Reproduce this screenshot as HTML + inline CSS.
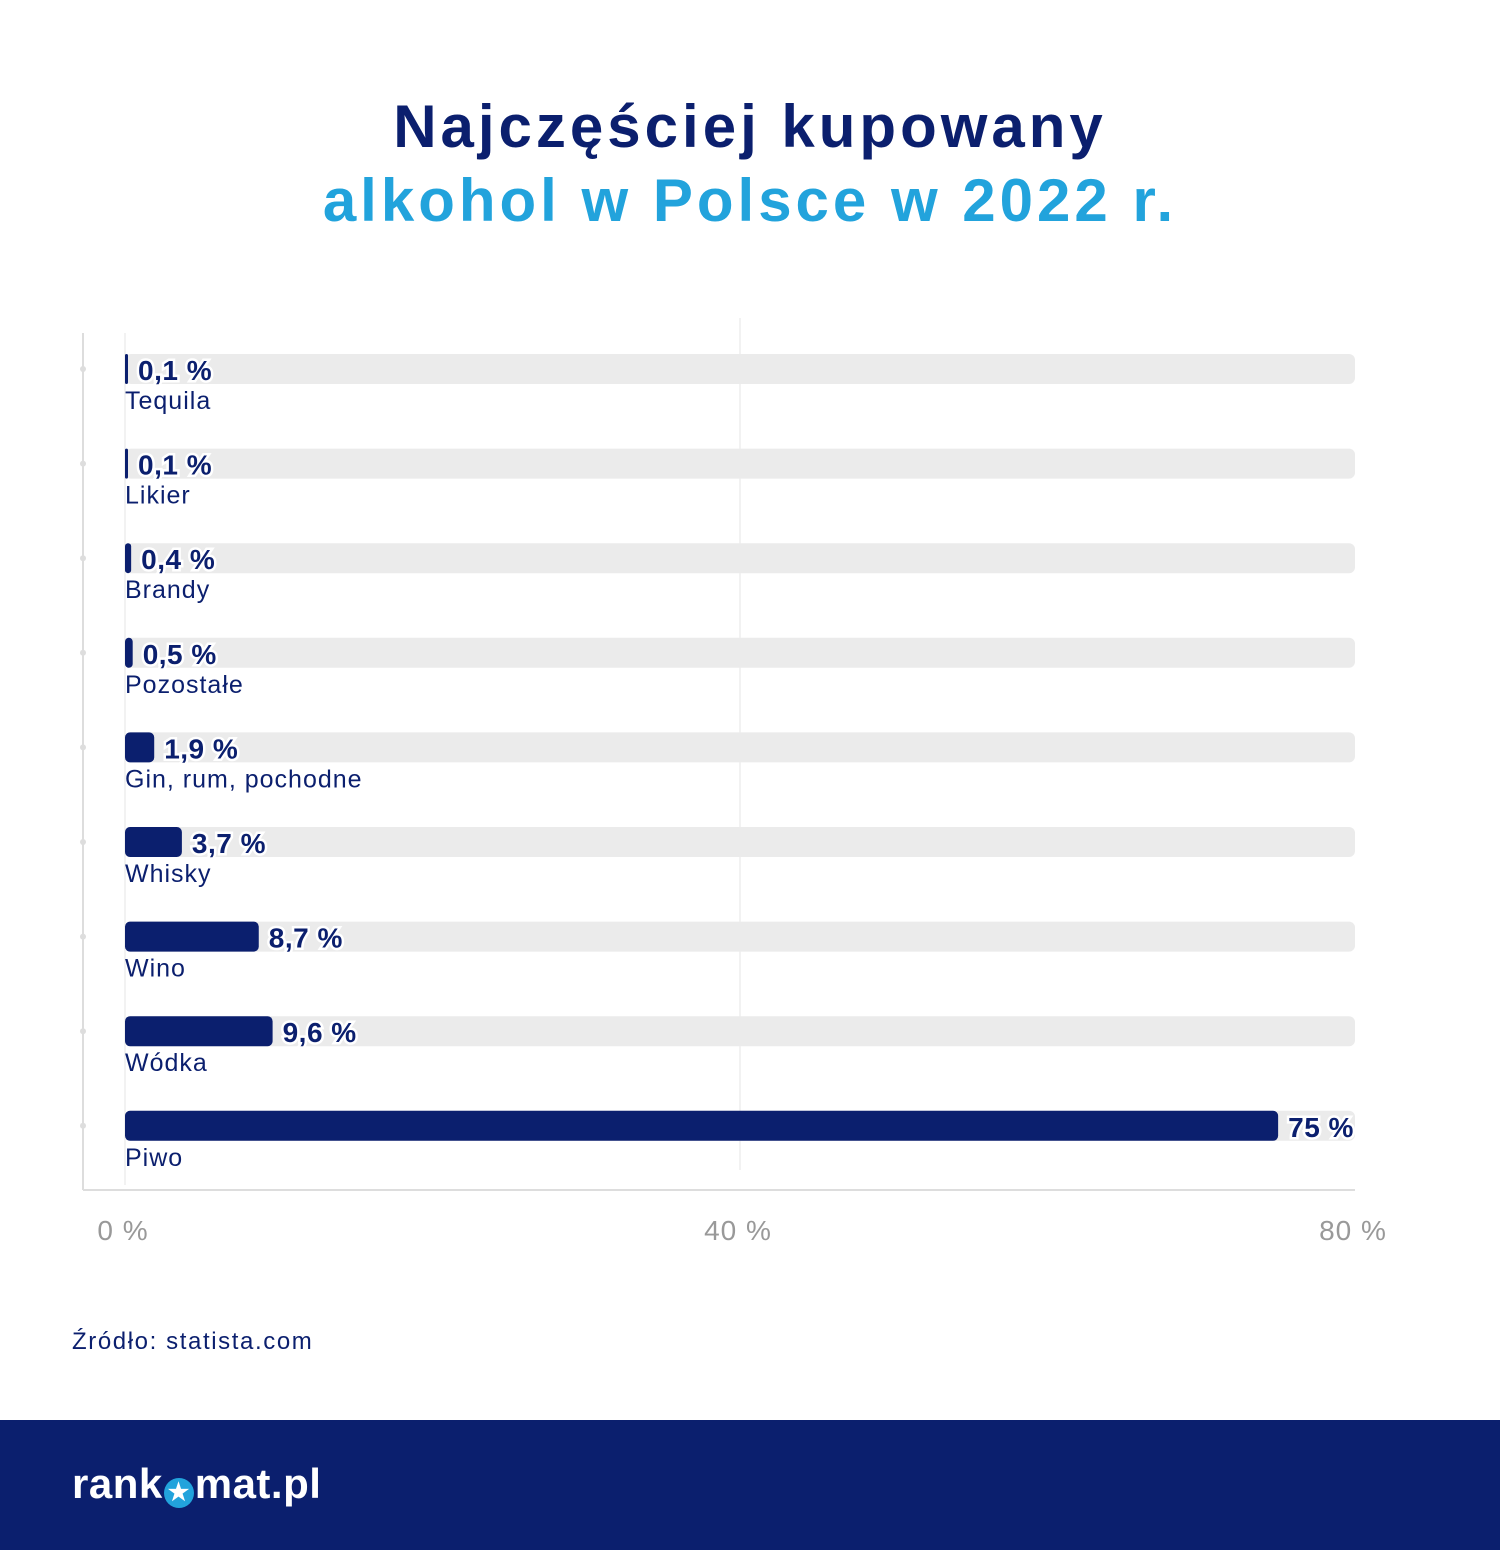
<!DOCTYPE html>
<html><head><meta charset="utf-8"><style>
body{margin:0;width:1500px;height:1550px;background:#fff;font-family:"Liberation Sans",sans-serif;overflow:hidden;position:relative}
.t{position:absolute;left:0;width:1500px;text-align:center;font-weight:bold;font-size:60px;letter-spacing:4px}
</style></head><body>
<div class="t" style="top:92px;color:#0b1f6e">Najczęściej kupowany</div>
<div class="t" style="top:166px;color:#22a3dc">alkohol w Polsce w 2022 r.</div>
<svg id="c" width="1500" height="1300" style="position:absolute;left:0;top:0"></svg>
<div style="position:absolute;left:72px;top:1328px;font-size:24px;letter-spacing:1.6px;color:#0b1f6e">Źródło: statista.com</div>
<div style="position:absolute;left:0;top:1420px;width:1500px;height:130px;background:#0b1f6e">
<div style="position:absolute;left:72px;top:40px;font-size:42px;font-weight:bold;color:#fff;letter-spacing:0.5px">rank<span style="display:inline-block;width:30px;height:30px;border-radius:50%;background:#22a3dc;color:#fff;font-size:24px;line-height:30px;text-align:center;vertical-align:-2px;margin:0 1px">★</span>mat.pl</div>
</div>
<script>
const categories=["Tequila","Likier","Brandy","Pozostałe","Gin, rum, pochodne","Whisky","Wino","Wódka","Piwo"];
const values=[0.1,0.1,0.4,0.5,1.9,3.7,8.7,9.6,75];
const valueLabels=["0,1 %","0,1 %","0,4 %","0,5 %","1,9 %","3,7 %","8,7 %","9,6 %","75 %"];
const tickValues=[0,40,80];
const tickLabels=["0 %","40 %","80 %"];
const svg=document.getElementById('c');const NS="http://www.w3.org/2000/svg";
const x0=125,x1=1355,xmax=80;
const x=v=>x0+(x1-x0)*v/xmax;
const y=i=>369+i*94.6;
function mk(t,a,p){const e=document.createElementNS(NS,t);for(const k in a)e.setAttribute(k,a[k]);(p||svg).appendChild(e);return e;}
let g=mk('line',{x1:83,y1:333,x2:83,y2:1190,stroke:'#ddd','stroke-width':2});

g=mk('line',{x1:83,y1:1190,x2:1355,y2:1190,stroke:'#ddd','stroke-width':2});

tickValues.forEach((v,i)=>{
 if(v>0&&v<xmax){const l=mk('line',{x1:x(v),y1:318,x2:x(v),y2:1170,stroke:'#e6e6e6','stroke-width':1});
 }
 if(v==0){const l=mk('line',{x1:x(v),y1:333,x2:x(v),y2:1185,stroke:'#e6e6e6','stroke-width':1});
 }
 const t=mk('text',{x:x(v)-2,y:1240,'text-anchor':'middle','font-size':28,'letter-spacing':1,fill:'#999','font-family':'Liberation Sans, sans-serif'});
 t.textContent=tickLabels[i];
 
});
categories.forEach((c,i)=>{
 const cy=y(i);
 const d=mk('circle',{cx:83,cy:cy,r:3,fill:'#ddd'});
 
 const tr=mk('rect',{x:x0,y:cy-15,width:x1-x0,height:30,rx:6,fill:'#ebebeb'});
 
 const w=Math.max(3,x(values[i])-x0);
 const b=mk('rect',{x:x0,y:cy-15,width:w,height:30,rx:Math.min(5,w/2),fill:'#0b1f6e'});
 
 const vl=mk('text',{x:x0+w+10,y:cy+11,'font-size':28,'font-weight':'bold','letter-spacing':0.5,fill:'#0b1f6e',stroke:'#fff','stroke-width':5,'paint-order':'stroke','font-family':'Liberation Sans, sans-serif'});
 vl.textContent=valueLabels[i];
 
 const cl=mk('text',{x:x0,y:cy+40,'font-size':25,'letter-spacing':1,fill:'#0b1f6e','font-family':'Liberation Sans, sans-serif'});
 cl.textContent=c;
 
});
</script>
</body></html>
